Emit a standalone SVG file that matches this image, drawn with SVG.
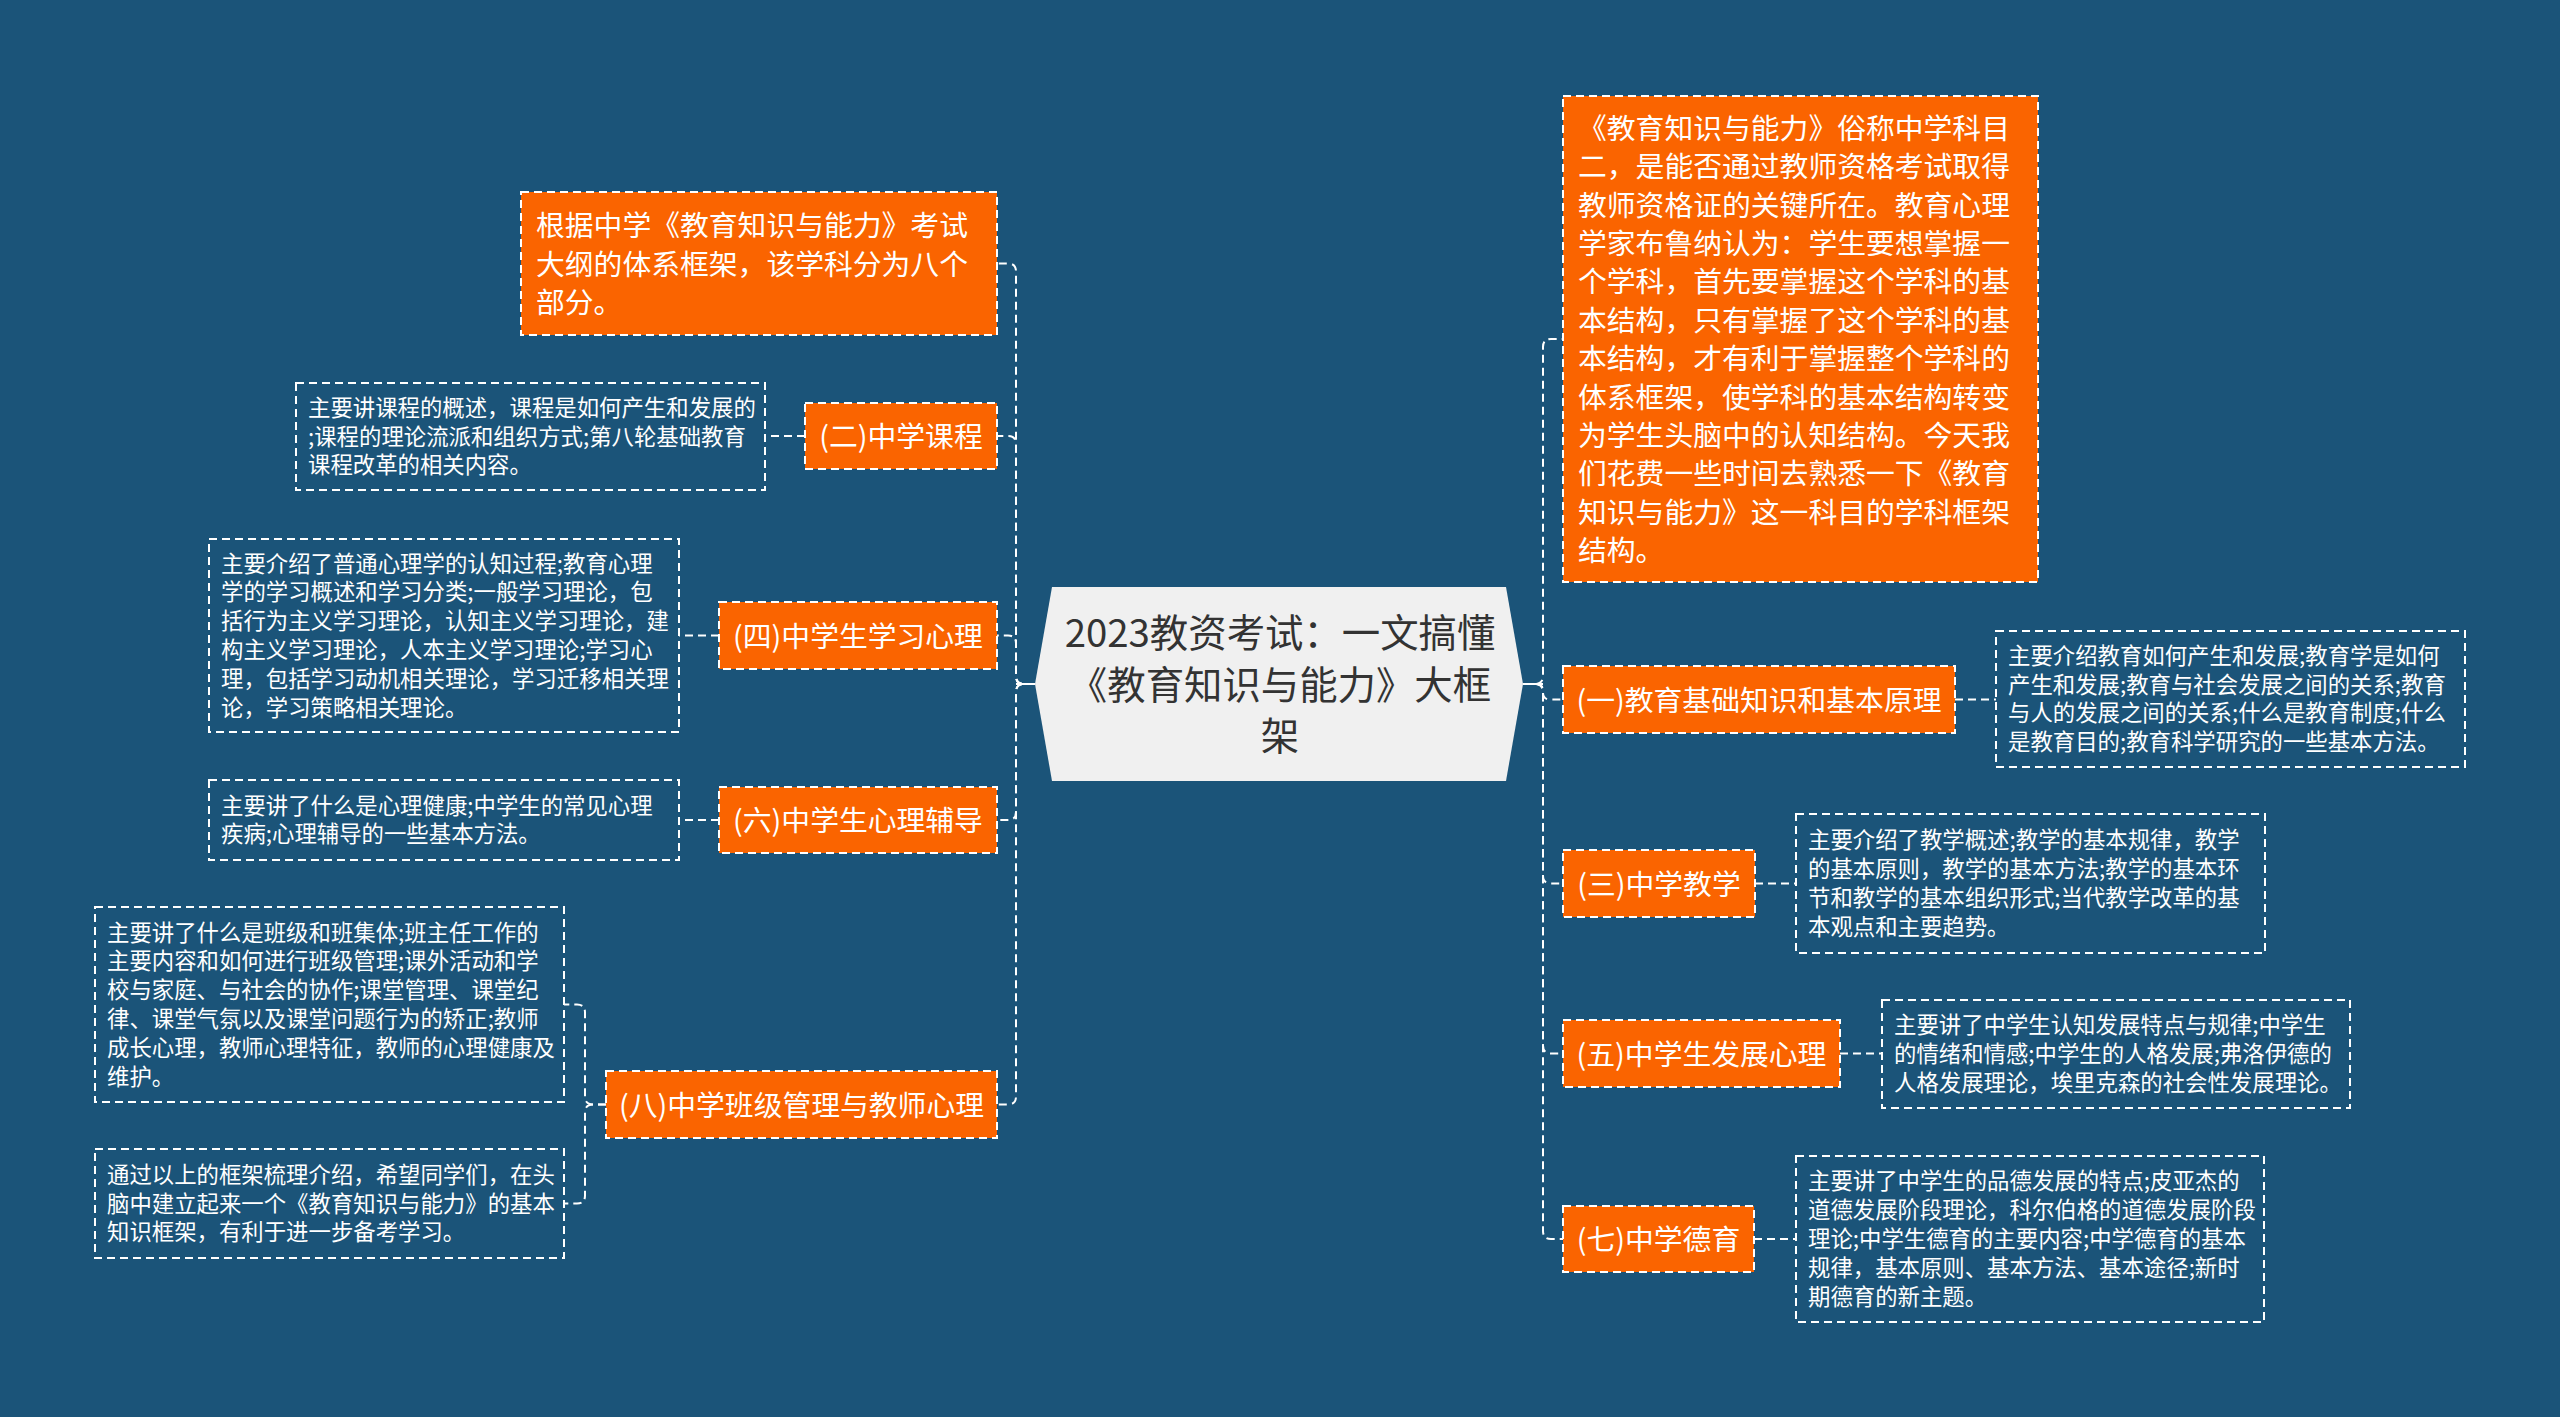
<svg xmlns="http://www.w3.org/2000/svg" width="2560" height="1417" viewBox="0 0 2560 1417">
<style>
text{font-family:"Noto Sans CJK SC","Noto Sans",sans-serif;}
.bg{fill:#1b5479;}
.center{fill:#f0f0f0;}
.ctext{font-size:38.4px;fill:#333;text-anchor:middle;}
.onode{fill:#fa6400;stroke:#fff;stroke-width:2;stroke-dasharray:8 5;}
.otext{font-size:28.8px;fill:#fff;text-anchor:middle;}
.oitext{font-size:28.8px;fill:#fff;}
.desc{fill:none;stroke:#fff;stroke-width:2;stroke-dasharray:8 5;}
.dtext{font-size:22.4px;fill:#fff;}
.conn{fill:none;stroke:#fff;stroke-width:2;stroke-dasharray:8 5;}
.stub{fill:none;stroke:#fff;stroke-width:2;}
</style>
<rect class="bg" x="0" y="0" width="2560" height="1417"/>

<g id="connectors">
  <line class="stub" x1="1016" y1="684" x2="1035" y2="684"/>
  <line class="stub" x1="1523" y1="684" x2="1543" y2="684"/>
  <path class="conn" d="M1035,684 H1024 Q1016,684 1016,676 V271.5 Q1016,263.5 1008,263.5 H997"/>
  <path class="conn" d="M1035,684 H1024 Q1016,684 1016,676 V444 Q1016,436 1008,436 H997"/>
  <path class="conn" d="M1035,684 H1024 Q1016,684 1016,676 V643.5 Q1016,635.5 1008,635.5 H997"/>
  <path class="conn" d="M1035,684 H1024 Q1016,684 1016,692 V812 Q1016,820 1008,820 H998"/>
  <path class="conn" d="M1035,684 H1024 Q1016,684 1016,692 V1096.5 Q1016,1104.5 1008,1104.5 H997"/>
  <path class="conn" d="M1523,684 H1535 Q1543,684 1543,676 V347 Q1543,339 1551,339 H1563"/>
  <path class="conn" d="M1523,684 H1536 Q1543,684 1543,691 V692.5 Q1543,699.5 1550,699.5 H1563"/>
  <path class="conn" d="M1523,684 H1535 Q1543,684 1543,692 V875.5 Q1543,883.5 1551,883.5 H1563"/>
  <path class="conn" d="M1523,684 H1535 Q1543,684 1543,692 V1045.5 Q1543,1053.5 1551,1053.5 H1563"/>
  <path class="conn" d="M1523,684 H1535 Q1543,684 1543,692 V1231 Q1543,1239 1551,1239 H1563"/>
  <line class="conn" x1="805" y1="436" x2="765" y2="436"/>
  <line class="conn" x1="719" y1="635.5" x2="679" y2="635.5"/>
  <line class="conn" x1="719" y1="820" x2="679" y2="820"/>
  <path class="conn" d="M606,1104.5 H593 Q585,1104.5 585,1096.5 V1012.5 Q585,1004.5 577,1004.5 H564"/>
  <path class="conn" d="M606,1104.5 H593 Q585,1104.5 585,1112.5 V1195.5 Q585,1203.5 577,1203.5 H564"/>
  <line class="conn" x1="1955" y1="699.5" x2="1996" y2="699.5"/>
  <line class="conn" x1="1755" y1="883.5" x2="1796" y2="883.5"/>
  <line class="conn" x1="1840" y1="1053.5" x2="1882" y2="1053.5"/>
  <line class="conn" x1="1754" y1="1239" x2="1796" y2="1239"/>
</g>

<g id="center">
  <polygon class="center" points="1035,684 1052,587 1506,587 1523,684 1506,781 1052,781"/>
  <text class="ctext" x="1280" y="647.4">2023教资考试：一文搞懂</text>
  <text class="ctext" x="1280" y="698.6">《教育知识与能力》大框</text>
  <text class="ctext" x="1280" y="749.8">架</text>
</g>

<g id="intro-left">
  <rect class="onode" x="521" y="192" width="476" height="143"/>
  <text class="oitext" x="536" y="236.1">根据中学《教育知识与能力》考试</text>
  <text class="oitext" x="536" y="274.5">大纲的体系框架，该学科分为八个</text>
  <text class="oitext" x="536" y="312.9">部分。</text>
</g>

<g id="n2">
  <rect class="onode" x="805" y="403" width="192" height="66"/>
  <text class="otext" x="901" y="447">(二)中学课程</text>
</g>
<g id="n2-desc">
  <rect class="desc" x="296" y="383" width="469" height="107"/>
  <text class="dtext" x="308" y="415.7">主要讲课程的概述，课程是如何产生和发展的</text>
  <text class="dtext" x="308" y="444.5">;课程的理论流派和组织方式;第八轮基础教育</text>
  <text class="dtext" x="308" y="473.3">课程改革的相关内容。</text>
</g>

<g id="n4">
  <rect class="onode" x="719" y="602" width="278" height="67"/>
  <text class="otext" x="858" y="646.5">(四)中学生学习心理</text>
</g>
<g id="n4-desc">
  <rect class="desc" x="209" y="539" width="470" height="193"/>
  <text class="dtext" x="221" y="571.5">主要介绍了普通心理学的认知过程;教育心理</text>
  <text class="dtext" x="221" y="600.3">学的学习概述和学习分类;一般学习理论，包</text>
  <text class="dtext" x="221" y="629.1">括行为主义学习理论，认知主义学习理论，建</text>
  <text class="dtext" x="221" y="657.9">构主义学习理论，人本主义学习理论;学习心</text>
  <text class="dtext" x="221" y="686.7">理，包括学习动机相关理论，学习迁移相关理</text>
  <text class="dtext" x="221" y="715.5">论，学习策略相关理论。</text>
</g>

<g id="n6">
  <rect class="onode" x="719" y="787" width="278" height="66"/>
  <text class="otext" x="858" y="831">(六)中学生心理辅导</text>
</g>
<g id="n6-desc">
  <rect class="desc" x="209" y="780" width="470" height="80"/>
  <text class="dtext" x="221" y="813.6">主要讲了什么是心理健康;中学生的常见心理</text>
  <text class="dtext" x="221" y="842.4">疾病;心理辅导的一些基本方法。</text>
</g>

<g id="n8">
  <rect class="onode" x="606" y="1071" width="391" height="67"/>
  <text class="otext" x="801.5" y="1115.5">(八)中学班级管理与教师心理</text>
</g>
<g id="n8-desc1">
  <rect class="desc" x="95" y="907" width="469" height="195"/>
  <text class="dtext" x="107" y="940.5">主要讲了什么是班级和班集体;班主任工作的</text>
  <text class="dtext" x="107" y="969.3">主要内容和如何进行班级管理;课外活动和学</text>
  <text class="dtext" x="107" y="998.1">校与家庭、与社会的协作;课堂管理、课堂纪</text>
  <text class="dtext" x="107" y="1026.9">律、课堂气氛以及课堂问题行为的矫正;教师</text>
  <text class="dtext" x="107" y="1055.7">成长心理，教师心理特征，教师的心理健康及</text>
  <text class="dtext" x="107" y="1084.5">维护。</text>
</g>
<g id="n8-desc2">
  <rect class="desc" x="95" y="1149" width="469" height="109"/>
  <text class="dtext" x="107" y="1182.7">通过以上的框架梳理介绍，希望同学们，在头</text>
  <text class="dtext" x="107" y="1211.5">脑中建立起来一个《教育知识与能力》的基本</text>
  <text class="dtext" x="107" y="1240.3">知识框架，有利于进一步备考学习。</text>
</g>

<g id="intro-right">
  <rect class="onode" x="1563" y="96" width="475" height="486"/>
  <text class="oitext" x="1578" y="138.8">《教育知识与能力》俗称中学科目</text>
  <text class="oitext" x="1578" y="177.2">二，是能否通过教师资格考试取得</text>
  <text class="oitext" x="1578" y="215.6">教师资格证的关键所在。教育心理</text>
  <text class="oitext" x="1578" y="254">学家布鲁纳认为：学生要想掌握一</text>
  <text class="oitext" x="1578" y="292.4">个学科，首先要掌握这个学科的基</text>
  <text class="oitext" x="1578" y="330.8">本结构，只有掌握了这个学科的基</text>
  <text class="oitext" x="1578" y="369.2">本结构，才有利于掌握整个学科的</text>
  <text class="oitext" x="1578" y="407.6">体系框架，使学科的基本结构转变</text>
  <text class="oitext" x="1578" y="446">为学生头脑中的认知结构。今天我</text>
  <text class="oitext" x="1578" y="484.4">们花费一些时间去熟悉一下《教育</text>
  <text class="oitext" x="1578" y="522.8">知识与能力》这一科目的学科框架</text>
  <text class="oitext" x="1578" y="561.2">结构。</text>
</g>

<g id="n1">
  <rect class="onode" x="1563" y="666" width="392" height="67"/>
  <text class="otext" x="1759" y="710.5">(一)教育基础知识和基本原理</text>
</g>
<g id="n1-desc">
  <rect class="desc" x="1996" y="631" width="469" height="136"/>
  <text class="dtext" x="2008" y="663.8">主要介绍教育如何产生和发展;教育学是如何</text>
  <text class="dtext" x="2008" y="692.6">产生和发展;教育与社会发展之间的关系;教育</text>
  <text class="dtext" x="2008" y="721.4">与人的发展之间的关系;什么是教育制度;什么</text>
  <text class="dtext" x="2008" y="750.2">是教育目的;教育科学研究的一些基本方法。</text>
</g>

<g id="n3">
  <rect class="onode" x="1563" y="850" width="192" height="67"/>
  <text class="otext" x="1659" y="894.5">(三)中学教学</text>
</g>
<g id="n3-desc">
  <rect class="desc" x="1796" y="814" width="469" height="139"/>
  <text class="dtext" x="1808" y="848.3">主要介绍了教学概述;教学的基本规律，教学</text>
  <text class="dtext" x="1808" y="877.1">的基本原则，教学的基本方法;教学的基本环</text>
  <text class="dtext" x="1808" y="905.9">节和教学的基本组织形式;当代教学改革的基</text>
  <text class="dtext" x="1808" y="934.7">本观点和主要趋势。</text>
</g>

<g id="n5">
  <rect class="onode" x="1563" y="1020" width="277" height="67"/>
  <text class="otext" x="1701.5" y="1064.5">(五)中学生发展心理</text>
</g>
<g id="n5-desc">
  <rect class="desc" x="1882" y="1000" width="468" height="108"/>
  <text class="dtext" x="1894" y="1033.2">主要讲了中学生认知发展特点与规律;中学生</text>
  <text class="dtext" x="1894" y="1062">的情绪和情感;中学生的人格发展;弗洛伊德的</text>
  <text class="dtext" x="1894" y="1090.8">人格发展理论，埃里克森的社会性发展理论。</text>
</g>

<g id="n7">
  <rect class="onode" x="1563" y="1206" width="191" height="66"/>
  <text class="otext" x="1658.5" y="1250">(七)中学德育</text>
</g>
<g id="n7-desc">
  <rect class="desc" x="1796" y="1156" width="468" height="166"/>
  <text class="dtext" x="1808" y="1189.4">主要讲了中学生的品德发展的特点;皮亚杰的</text>
  <text class="dtext" x="1808" y="1218.2">道德发展阶段理论，科尔伯格的道德发展阶段</text>
  <text class="dtext" x="1808" y="1247">理论;中学生德育的主要内容;中学德育的基本</text>
  <text class="dtext" x="1808" y="1275.8">规律，基本原则、基本方法、基本途径;新时</text>
  <text class="dtext" x="1808" y="1304.6">期德育的新主题。</text>
</g>
</svg>
